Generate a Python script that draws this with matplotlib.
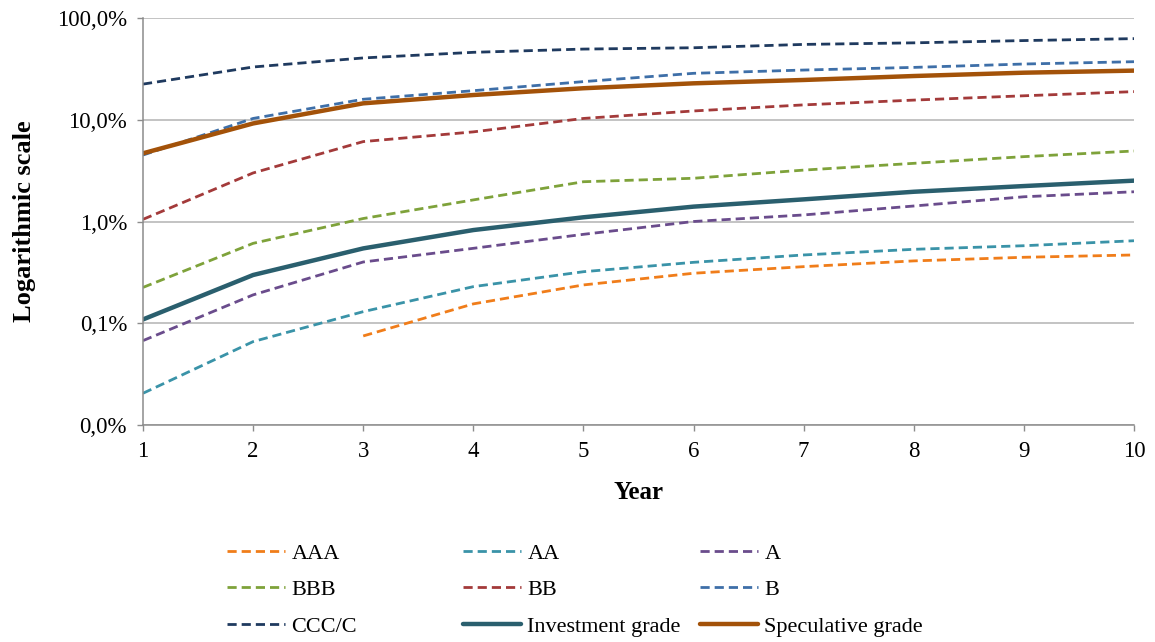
import numpy as np
import matplotlib
matplotlib.use('Agg')
import matplotlib.pyplot as plt
from matplotlib.ticker import FuncFormatter, NullLocator, FixedLocator

plt.rcParams['font.family'] = ['Liberation Serif', 'DejaVu Serif']

years = [1, 2, 3, 4, 5, 6, 7, 8, 9, 10]
years_aaa = [3, 4, 5, 6, 7, 8, 9, 10]

# cumulative default rates, in percent
aaa = [0.075, 0.155, 0.238, 0.31, 0.36, 0.41, 0.445, 0.469]
aa = [0.0205, 0.066, 0.13, 0.229, 0.321, 0.397, 0.469, 0.533, 0.578, 0.647]
a = [0.0675, 0.19, 0.40, 0.545, 0.748, 1.0, 1.16, 1.42, 1.75, 1.96]
bbb = [0.225, 0.61, 1.07, 1.63, 2.46, 2.66, 3.2, 3.73, 4.34, 4.93]
bb = [1.05, 3.0, 6.1, 7.6, 10.3, 12.2, 14.0, 15.6, 17.2, 18.9]
b = [4.5, 10.3, 15.9, 19.3, 23.7, 28.6, 30.8, 32.7, 35.3, 37.2]
ccc = [22.4, 33.0, 40.5, 46.0, 49.5, 51.0, 55.0, 57.0, 60.0, 62.7]
inv = [0.109, 0.298, 0.544, 0.824, 1.10, 1.40, 1.65, 1.96, 2.23, 2.52]
spec = [4.68, 9.2, 14.5, 17.5, 20.4, 22.8, 24.6, 26.9, 29.0, 30.4]

ytick_vals = [0.01, 0.1, 1, 10, 100]

dashed = [
    ('AAA', years_aaa, aaa, '#F07D1A'),
    ('AA', years, aa, '#3A93A8'),
    ('A', years, a, '#6A4C8C'),
    ('BBB', years, bbb, '#7EA23A'),
    ('BB', years, bb, '#A33A3A'),
    ('B', years, b, '#3E6FA8'),
    ('CCC/C', years, ccc, '#1F3A5F'),
]
solid = [
    ('Investment grade', years, inv, '#2A5F6E'),
    ('Speculative grade', years, spec, '#A35209'),
]

fig = plt.figure(figsize=(11.55, 6.42), dpi=100)
ax = fig.add_axes([143/1155, 1-425/642, (1134-143)/1155, (425-18)/642])

handles = {}
for name, x, y, c in dashed:
    l, = ax.plot(x, y, color=c, lw=2.0, dashes=(3.3, 1.8), label=name)
    handles[name] = l
for name, x, y, c in solid:
    l, = ax.plot(x, y, color=c, lw=3.2, solid_capstyle='round', label=name)
    handles[name] = l

ax.set_yscale('log')
ax.set_ylim(0.01, 100)
ax.set_xlim(1, 10)
ax.yaxis.set_major_locator(FixedLocator(ytick_vals))
ax.yaxis.set_minor_locator(NullLocator())
ax.yaxis.set_major_formatter(FuncFormatter(lambda v, p: ('%.1f%%' % v).replace('.', ',')))
ax.set_xticks(years)

ax.grid(axis='y', color='#B3B3B3', lw=1.1)
ax.set_axisbelow(True)
for s in ['top', 'right']:
    ax.spines[s].set_visible(False)
for s in ['left', 'bottom']:
    ax.spines[s].set_color('#8C8C8C')
    ax.spines[s].set_linewidth(1.1)
ax.tick_params(axis='both', colors='#8C8C8C', length=4.5, width=1, labelsize=16.5, labelcolor='black')
ax.tick_params(axis='y', pad=7)
ax.tick_params(axis='x', pad=7)

ax.set_xlabel('Year', fontsize=18, fontweight='bold', labelpad=14)
ax.set_ylabel('Logarithmic scale', fontsize=19, fontweight='bold', labelpad=15)

cols = [['AAA', 'BBB', 'CCC/C'], ['AA', 'BB', 'Investment grade'], ['A', 'B', 'Speculative grade']]
xs = [227, 463, 700]
for names, xp in zip(cols, xs):
    fig.legend([handles[n] for n in names], names, loc='upper left',
               bbox_to_anchor=(xp/1155, 1-543/642), frameon=False, fontsize=16,
               handlelength=2.6, handletextpad=0.3, labelspacing=0.72,
               borderpad=0, borderaxespad=0)

fig.savefig('out.png', dpi=100)
